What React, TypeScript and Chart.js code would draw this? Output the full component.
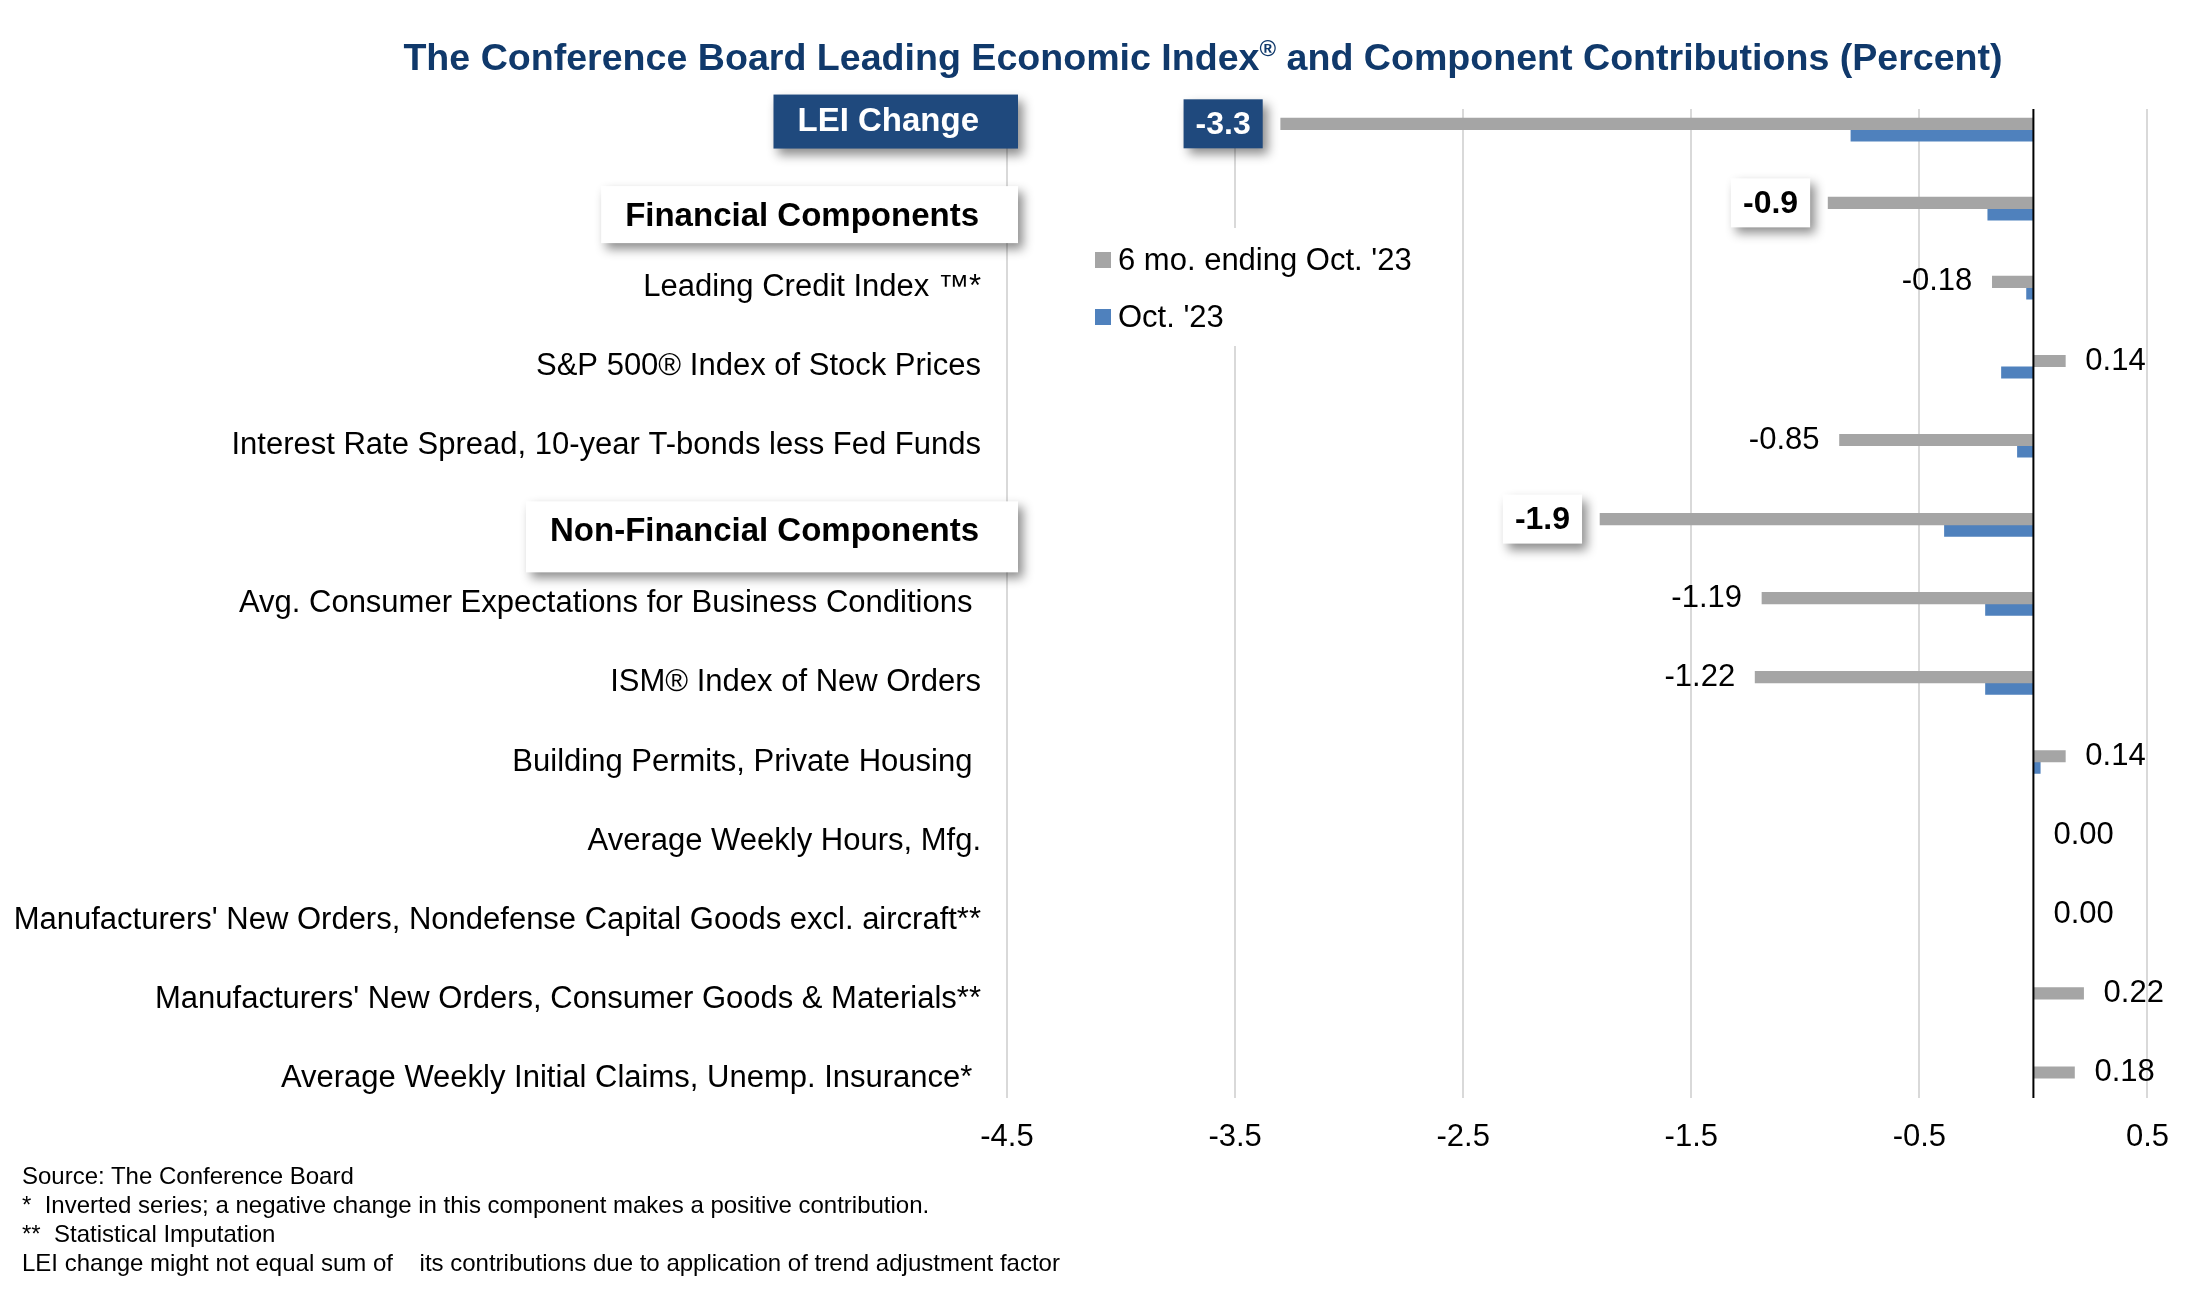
import { useEffect, useRef } from "react"
import { Chart, registerables } from "chart.js"

Chart.register(...registerables)

const FONT = "'Liberation Sans', Arial, sans-serif"

const categories = [
  "LEI Change",
  "Financial Components",
  "Leading Credit Index ™*",
  "S&P 500® Index of Stock Prices",
  "Interest Rate Spread, 10-year T-bonds less Fed Funds",
  "Non-Financial Components",
  "Avg. Consumer Expectations for Business Conditions ",
  "ISM® Index of New Orders",
  "Building Permits, Private Housing ",
  "Average Weekly Hours, Mfg.",
  "Manufacturers' New Orders, Nondefense Capital Goods excl. aircraft**",
  "Manufacturers' New Orders, Consumer Goods & Materials**",
  "Average Weekly Initial Claims, Unemp. Insurance* ",
]
const headingRows = [0, 1, 5]
const seriesNames = ["6 mo. ending Oct. '23", "Oct. '23"]
const sixMonth = [-3.3, -0.9, -0.18, 0.14, -0.85, -1.9, -1.19, -1.22, 0.14, 0.0, 0.0, 0.22, 0.18]
const october = [-0.8, -0.2, -0.03, -0.14, -0.07, -0.39, -0.21, -0.21, 0.03, 0, 0, 0, 0]
const xTicks = [-4.5, -3.5, -2.5, -1.5, -0.5, 0.5]
const footnotes = [
  "Source: The Conference Board",
  "*  Inverted series; a negative change in this component makes a positive contribution.",
  "**  Statistical Imputation",
  "LEI change might not equal sum of    its contributions due to application of trend adjustment factor",
]

const GRAY = "#A5A5A5"
const BLUE = "#4F81BD"
const NAVY = "#1F497D"

// look of the boxed row headings on the left
const headingLook: Record<number, { fill: string; color: string; h: number; dy: number; textDy: number }> = {
  0: { fill: NAVY, color: "#fff", h: 54, dy: -8, textDy: 0 },
  1: { fill: "#fff", color: "#000", h: 57, dy: 6, textDy: 2 },
  5: { fill: "#fff", color: "#000", h: 71, dy: 12, textDy: -5 },
}

function shadowOn(ctx: CanvasRenderingContext2D) {
  ctx.shadowColor = "rgba(0,0,0,0.45)"
  ctx.shadowBlur = 10
  ctx.shadowOffsetX = 5
  ctx.shadowOffsetY = 6
}
function shadowOff(ctx: CanvasRenderingContext2D) {
  ctx.shadowColor = "transparent"
  ctx.shadowBlur = 0
  ctx.shadowOffsetX = 0
  ctx.shadowOffsetY = 0
}

const annotations = {
  id: "annotations",
  afterDatasetsDraw(chart: any) {
    const { ctx, chartArea, scales } = chart
    const x = scales.x
    const y = scales.y
    ctx.save()

    // zero line
    const x0 = x.getPixelForValue(0)
    ctx.strokeStyle = "#000"
    ctx.lineWidth = 2
    ctx.beginPath()
    ctx.moveTo(x0, chartArea.top)
    ctx.lineTo(x0, chartArea.bottom)
    ctx.stroke()

    // value labels on the grey series
    const meta = chart.getDatasetMeta(0)
    meta.data.forEach((el: any, i: number) => {
      const v = sixMonth[i]
      if (headingRows.includes(i)) {
        const text = v.toFixed(1)
        ctx.font = `bold 32px ${FONT}`
        const w = ctx.measureText(text).width + 24
        const h = 49
        const right = el.x - 18
        const look = headingLook[i]
        shadowOn(ctx)
        ctx.fillStyle = look.fill
        ctx.fillRect(right - w, el.y - h / 2, w, h)
        shadowOff(ctx)
        ctx.fillStyle = look.color
        ctx.textAlign = "center"
        ctx.textBaseline = "middle"
        ctx.fillText(text, right - w / 2, el.y + 1)
      } else {
        const text = v.toFixed(2)
        ctx.font = `31px ${FONT}`
        ctx.fillStyle = "#000"
        ctx.textBaseline = "middle"
        if (v < 0) {
          ctx.textAlign = "right"
          ctx.fillText(text, el.x - 20, el.y)
        } else {
          ctx.textAlign = "left"
          ctx.fillText(text, el.x + 20, el.y)
        }
      }
    })

    // headings on the category side
    headingRows.forEach((row) => {
      const look = headingLook[row]
      const text = categories[row]
      ctx.font = `bold 33px ${FONT}`
      const tw = ctx.measureText(text).width
      const textRight = chartArea.left - 28
      const left = textRight - tw - 24
      const right = chartArea.left + 11
      const cy = y.getPixelForValue(row) + look.dy
      shadowOn(ctx)
      ctx.fillStyle = look.fill
      ctx.fillRect(left, cy - look.h / 2, right - left, look.h)
      shadowOff(ctx)
      ctx.fillStyle = look.color
      ctx.textAlign = "right"
      ctx.textBaseline = "middle"
      ctx.fillText(text, textRight, cy + look.textDy)
    })

    // legend
    const lx = chartArea.left + 88
    const ly = 260
    ctx.fillStyle = "#fff"
    ctx.fillRect(lx - 10, ly - 32, 345, 118)
    const colors = [GRAY, BLUE]
    seriesNames.forEach((name, i) => {
      const cy = ly + i * 57
      ctx.fillStyle = colors[i]
      ctx.fillRect(lx, cy - 8, 16, 16)
      ctx.fillStyle = "#000"
      ctx.font = `31px ${FONT}`
      ctx.textAlign = "left"
      ctx.textBaseline = "middle"
      ctx.fillText(name, lx + 23, cy + 1)
    })

    ctx.restore()
  },
}

function LeiChart() {
  const canvasRef = useRef<HTMLCanvasElement>(null)
  const chartRef = useRef<Chart | null>(null)

  useEffect(() => {
    if (!canvasRef.current) return
    if (chartRef.current) chartRef.current.destroy()
    Chart.defaults.font.family = FONT

    chartRef.current = new Chart(canvasRef.current, {
      type: "bar",
      data: {
        datasets: [
          {
            label: seriesNames[0],
            data: sixMonth.map((v, i) => ({ x: v, y: i })),
            backgroundColor: GRAY,
            barThickness: 11.5,
          },
          {
            label: seriesNames[1],
            data: october.map((v, i) => ({ x: v, y: i })),
            backgroundColor: BLUE,
            barThickness: 11.5,
          },
        ],
      },
      options: {
        indexAxis: "y",
        animation: false,
        responsive: false,
        events: [],
        layout: { padding: { top: 109, right: 41, bottom: 156, left: 0 } },
        scales: {
          x: {
            type: "linear",
            min: -4.5,
            max: 0.5,
            afterBuildTicks: (s: any) => {
              s.ticks = xTicks.map((v) => ({ value: v }))
            },
            afterFit: (s: any) => {
              s.height = 60
            },
            grid: { color: "#D9D9D9", lineWidth: 2, drawTicks: false },
            border: { display: false },
            ticks: {
              autoSkip: false,
              maxRotation: 0,
              padding: 21,
              color: "#000",
              font: { size: 31 },
              callback: (v: any) => Number(v).toFixed(1),
            },
          },
          y: {
            type: "linear",
            reverse: true,
            offset: false,
            min: -0.26,
            max: 12.25,
            afterBuildTicks: (s: any) => {
              s.ticks = categories.map((_, i) => ({ value: i }))
            },
            afterFit: (s: any) => {
              s.width = 1007
            },
            grid: { display: false, drawTicks: false, offset: false },
            border: { display: false },
            ticks: {
              autoSkip: false,
              padding: 26,
              color: "#000",
              font: { size: 31 },
              callback: (v: any) => (headingRows.includes(v) ? "" : categories[v]),
            },
          },
        },
        plugins: {
          legend: { display: false },
          tooltip: { enabled: false },
        },
      },
      plugins: [annotations],
    } as any)

    return () => {
      if (chartRef.current) {
        chartRef.current.destroy()
        chartRef.current = null
      }
    }
  }, [])

  return <canvas ref={canvasRef} width={2190} height={1314} style={{ position: "absolute", left: 0, top: 0 }} />
}

export default function App() {
  return (
    <div
      style={{
        position: "absolute",
        left: 0,
        top: 0,
        width: 2190,
        height: 1314,
        background: "#fff",
        overflow: "hidden",
        fontFamily: FONT,
      }}
    >
      <LeiChart />
      <div
        style={{
          position: "absolute",
          left: 203,
          top: 38,
          width: 2000,
          textAlign: "center",
          fontSize: 37.6,
          lineHeight: "38px",
          fontWeight: "bold",
          color: "#10396B",
          whiteSpace: "nowrap",
        }}
      >
        The Conference Board Leading Economic Index
        <span style={{ fontSize: "0.6em", position: "relative", top: "-0.6em" }}>®</span> and Component Contributions
        (Percent)
      </div>
      <div
        style={{
          position: "absolute",
          left: 22,
          top: 1161,
          fontSize: 24,
          lineHeight: "29px",
          color: "#000",
          whiteSpace: "pre",
        }}
      >
        {footnotes.map((line) => (
          <div key={line}>{line}</div>
        ))}
      </div>
    </div>
  )
}
